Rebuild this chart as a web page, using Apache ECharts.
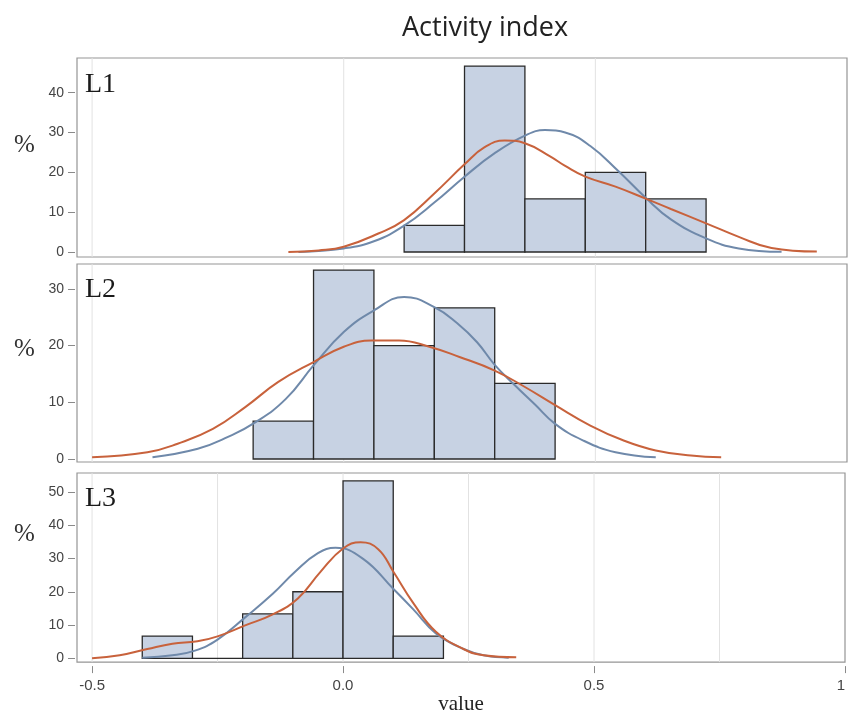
<!DOCTYPE html>
<html>
<head>
<meta charset="utf-8">
<script src="https://cdn.jsdelivr.net/npm/echarts@6/dist/echarts.min.js"></script>
<style>
  html, body { margin: 0; padding: 0; background: #fff; }
  #chart { width: 848px; height: 716px; }
</style>
</head>
<body>
<div id="chart"></div>
<script>
// Histogram bins: edges and percent of observations per bin
const L1_EDGES = [0.12, 0.24, 0.36, 0.48, 0.60, 0.72];
const L1_PCT = [6.67, 46.67, 13.33, 20.0, 13.33];
const L2_EDGES = [-0.18, -0.06, 0.06, 0.18, 0.30, 0.42];
const L2_PCT = [6.67, 33.33, 20.0, 26.67, 13.33];
const L3_EDGES = [-0.40, -0.30, -0.20, -0.10, 0.00, 0.10, 0.20];
const L3_PCT = [6.67, 0, 13.33, 20.0, 53.33, 6.67];

// Fitted normal curves (percent scale), [value, percent]
const L1_NORMAL = [[-0.09,0],[0.0,0.9],[0.06,2.7],[0.12,6.6],[0.18,12.4],[0.24,18.9],[0.30,24.8],[0.36,29.2],[0.40,30.6],[0.44,30.0],[0.49,26.6],[0.545,20.4],[0.60,13.6],[0.65,8.2],[0.72,3.4],[0.785,0.9],[0.87,0.05]];
const L2_NORMAL = [[-0.38,0.3],[-0.29,1.8],[-0.23,3.9],[-0.175,6.5],[-0.115,10.6],[-0.06,16.5],[0.0,22.4],[0.06,26.2],[0.12,28.6],[0.18,26.8],[0.225,24.0],[0.265,20.6],[0.30,16.6],[0.34,13.0],[0.38,9.6],[0.42,6.2],[0.475,3.3],[0.54,1.2],[0.62,0.3]];
const L3_NORMAL = [[-0.40,0.2],[-0.34,0.9],[-0.295,2.3],[-0.25,5.6],[-0.195,12.3],[-0.14,19.4],[-0.095,26.1],[-0.05,31.6],[-0.015,33.2],[0.04,29.9],[0.10,20.9],[0.14,14.7],[0.185,7.5],[0.24,2.8],[0.28,0.9],[0.33,0.2]];

// Kernel density curves (percent scale), [value, percent]
const L1_KERNEL = [[-0.11,0],[-0.05,0.4],[0.0,1.3],[0.07,4.7],[0.12,8.0],[0.18,14.7],[0.24,22.0],[0.28,26.3],[0.32,28.0],[0.36,27.3],[0.41,24.0],[0.44,21.6],[0.48,18.9],[0.54,16.4],[0.60,13.4],[0.65,10.8],[0.72,7.2],[0.785,3.8],[0.85,1.0],[0.94,0.1]];
const L2_KERNEL = [[-0.50,0.3],[-0.39,1.2],[-0.33,2.7],[-0.26,5.3],[-0.195,9.2],[-0.13,13.6],[-0.06,17.1],[0.0,19.8],[0.055,20.9],[0.11,20.9],[0.17,19.8],[0.23,18.0],[0.30,15.6],[0.36,12.7],[0.42,9.5],[0.49,5.9],[0.555,3.3],[0.62,1.5],[0.69,0.6],[0.75,0.3]];
const L3_KERNEL = [[-0.50,0],[-0.445,0.9],[-0.39,2.8],[-0.34,4.4],[-0.29,5.1],[-0.25,6.6],[-0.195,9.9],[-0.14,13.2],[-0.09,18.0],[-0.045,26.0],[0.0,33.0],[0.035,34.9],[0.07,32.8],[0.10,26.1],[0.14,16.6],[0.185,8.0],[0.24,2.8],[0.28,0.9],[0.345,0.3]];

// Axis ticks and reference lines
const X_TICKS = [-0.5, 0, 0.5, 1];
const L1_Y_TICKS = [0, 10, 20, 30, 40];
const L2_Y_TICKS = [0, 10, 20, 30];
const L3_Y_TICKS = [0, 10, 20, 30, 40, 50];
const L12_GRID_X = [-0.5, 0, 0.5];
const L3_GRID_X = [-0.5, -0.25, 0, 0.25, 0.5, 0.75];
const PANEL_NAMES = ['L1', 'L2', 'L3'];

const BAR_FILL = '#c7d2e3';
const BAR_EDGE = '#2a2a2a';
const NORMAL_COLOR = '#6f89aa';
const KERNEL_COLOR = '#c8623c';
const SANS = '"Liberation Sans", Arial, sans-serif';
const SERIF = '"Liberation Serif", "Times New Roman", serif';

const panels = [
  { top: 58, height: 199, yMin: -1.26, yMax: 48.7, yTicks: L1_Y_TICKS, edges: L1_EDGES, pct: L1_PCT, normal: L1_NORMAL, kernel: L1_KERNEL, gridX: L12_GRID_X },
  { top: 264, height: 198, yMin: -0.53, yMax: 34.4, yTicks: L2_Y_TICKS, edges: L2_EDGES, pct: L2_PCT, normal: L2_NORMAL, kernel: L2_KERNEL, gridX: L12_GRID_X },
  { top: 473, height: 199, yMin: -1.14, yMax: 55.7, yTicks: L3_Y_TICKS, edges: L3_EDGES, pct: L3_PCT, normal: L3_NORMAL, kernel: L3_KERNEL, gridX: L3_GRID_X }
];

function renderBar(params, api) {
  const p0 = api.coord([api.value(0), api.value(2)]);
  const p1 = api.coord([api.value(1), 0]);
  return {
    type: 'rect',
    shape: { x: p0[0], y: p0[1], width: p1[0] - p0[0], height: p1[1] - p0[1] },
    style: { fill: BAR_FILL, stroke: BAR_EDGE, lineWidth: 1.3 }
  };
}

function renderGridLine(params, api) {
  const cs = params.coordSys;
  const px = api.coord([api.value(0), 0])[0];
  return {
    type: 'line',
    shape: { x1: px, y1: cs.y, x2: px, y2: cs.y + cs.height },
    style: { stroke: '#e2e2e2', lineWidth: 1 }
  };
}

const grid = [], xAxis = [], yAxis = [], series = [];

panels.forEach((p, i) => {
  const last = i === panels.length - 1;
  grid.push({
    left: 77, top: p.top, width: 770, height: p.height,
    show: true, borderColor: '#959595', borderWidth: 1.2, backgroundColor: 'transparent'
  });
  xAxis.push({
    type: 'value', gridIndex: i, min: -0.53, max: 1.0,
    show: last,
    position: 'bottom',
    offset: 4,
    axisLine: { show: false, onZero: false },
    splitLine: { show: false },
    axisTick: { show: last, customValues: X_TICKS, length: 7, lineStyle: { color: '#8a8a8a' } },
    axisLabel: {
      show: last, customValues: X_TICKS, margin: 12,
      fontFamily: SANS, fontSize: 15, color: '#444',
      alignMaxLabel: 'right',
      formatter: v => (v === 1 ? '1' : v.toFixed(1))
    },
    name: last ? 'value' : '',
    nameLocation: 'middle', nameGap: 26,
    nameTextStyle: { fontFamily: SERIF, fontSize: 21, color: '#222', verticalAlign: 'top' }
  });
  yAxis.push({
    type: 'value', gridIndex: i, min: p.yMin, max: p.yMax,
    position: 'left',
    offset: 2,
    axisLine: { show: false, onZero: false },
    splitLine: { show: false },
    axisTick: { show: true, customValues: p.yTicks, length: 7, lineStyle: { color: '#8a8a8a' } },
    axisLabel: { customValues: p.yTicks, margin: 11, fontFamily: SANS, fontSize: 14, color: '#444' }
  });
  series.push({
    type: 'custom', xAxisIndex: i, yAxisIndex: i, z: 1, silent: true,
    renderItem: renderGridLine, data: p.gridX.map(v => [v])
  });
  series.push({
    type: 'custom', xAxisIndex: i, yAxisIndex: i, z: 2, silent: true,
    renderItem: renderBar,
    data: p.pct.map((v, k) => [p.edges[k], p.edges[k + 1], v])
  });
  series.push({
    type: 'line', xAxisIndex: i, yAxisIndex: i, z: 3, silent: true,
    data: p.normal, smooth: 0.45, showSymbol: false,
    lineStyle: { color: NORMAL_COLOR, width: 2 }
  });
  series.push({
    type: 'line', xAxisIndex: i, yAxisIndex: i, z: 4, silent: true,
    data: p.kernel, smooth: 0.45, showSymbol: false,
    lineStyle: { color: KERNEL_COLOR, width: 2 }
  });
});

const graphic = [];
const NAME_TOPS = [71, 276, 485];
const PCT_TOPS = [133, 337, 522];
panels.forEach((p, i) => {
  graphic.push({
    type: 'text', left: 85, top: NAME_TOPS[i], z: 10,
    style: { text: PANEL_NAMES[i], font: '28px ' + SERIF, fill: '#1a1a1a' }
  });
  graphic.push({
    type: 'text', left: 14, top: PCT_TOPS[i], z: 10,
    style: { text: '%', font: '25px ' + SERIF, fill: '#333' }
  });
});

const chart = echarts.init(document.getElementById('chart'), null, { renderer: 'canvas' });
chart.setOption({
  animation: false,
  backgroundColor: '#fff',
  title: {
    text: 'Activity index', left: 397, top: 10,
    textStyle: { fontFamily: '"Open Sans", sans-serif', fontSize: 27, fontWeight: 'normal', color: '#222' }
  },
  grid, xAxis, yAxis, series, graphic
});
</script>
</body>
</html>
